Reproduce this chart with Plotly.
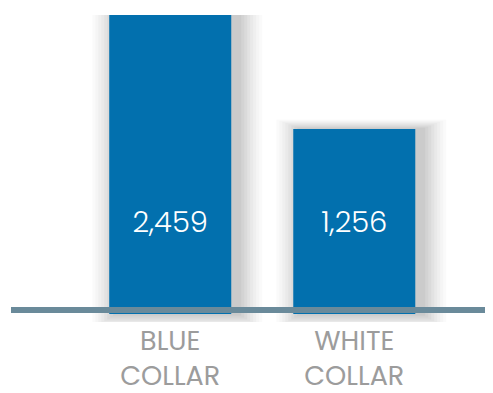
import plotly.graph_objects as go

# ---- data ----
categories = ["BLUE<br>COLLAR", "WHITE<br>COLLAR"]
values = [2459, 1256]
value_labels = ["2,459", "1,256"]

# ---- styling / layout constants ----
BAR_COLOR = "#0270ae"
LINE_COLOR = "#6a8a9a"
CAT_COLOR = "#9c9c9c"
FONT = "Poppins, Lato, 'Open Sans', sans-serif"
PX_PER_UNIT = 184.0          # horizontal px per category step
VAL_PER_PX = 10.55           # vertical value units per px
BAR_W = 122 / PX_PER_UNIT
AXIS_MAX = max(values)
AXIS_MIN = AXIS_MAX - 307 * VAL_PER_PX
BAR_BASE = AXIS_MAX - 299 * VAL_PER_PX
LINE_Y = AXIS_MAX - 295 * VAL_PER_PX
LABEL_Y = AXIS_MAX - 210 * VAL_PER_PX

# shadow layers: (spread px, opacity)
SHADOW_LAYERS = [(48, 0.018), (42, 0.02), (36, 0.022), (30, 0.025), (24, 0.028),
                 (18, 0.03), (12, 0.032), (6, 0.035)]

fig = go.Figure()

for spread, op in SHADOW_LAYERS:
    w = BAR_W + spread / PX_PER_UNIT
    fig.add_trace(go.Bar(
        x=list(range(len(values))),
        y=[v - BAR_BASE + spread * VAL_PER_PX * 0.5 for v in values],
        base=BAR_BASE - spread * VAL_PER_PX * 0.3,
        width=w,
        offset=-w / 2 + 7 / PX_PER_UNIT,
        marker=dict(color="rgba(0,0,0,%s)" % op, line=dict(width=0)),
        hoverinfo="skip", showlegend=False,
    ))

fig.add_trace(go.Bar(
    x=list(range(len(values))),
    y=[v - BAR_BASE for v in values],
    base=BAR_BASE,
    width=BAR_W,
    marker=dict(color=BAR_COLOR, line=dict(width=0)),
    hoverinfo="skip", showlegend=False,
))

fig.add_trace(go.Scatter(
    x=list(range(len(values))),
    y=[LABEL_Y] * len(values),
    mode="text",
    text=value_labels,
    textfont=dict(family=FONT, size=29, color="white", weight=300),
    hoverinfo="skip", showlegend=False,
))

fig.add_shape(type="line", xref="paper", x0=0, x1=1, yref="y", y0=LINE_Y, y1=LINE_Y,
              line=dict(color=LINE_COLOR, width=6), layer="above")

# page body has an 8px margin, so the figure is sized/offset to compensate
fig.update_layout(
    width=485, height=385,
    margin=dict(l=3, r=0, t=7, b=71),
    paper_bgcolor="white", plot_bgcolor="white",
    barmode="overlay",
    xaxis=dict(
        range=[-(170.2 - 11) / PX_PER_UNIT, 1 + (493 - 354.3) / PX_PER_UNIT],
        tickmode="array", tickvals=list(range(len(values))), ticktext=categories,
        tickfont=dict(family=FONT, size=27, color=CAT_COLOR),
        showgrid=False, zeroline=False, showline=False, ticks="",
        automargin=False,
    ),
    yaxis=dict(range=[AXIS_MIN, AXIS_MAX], visible=False, showgrid=False, zeroline=False,
               automargin=False),
)

fig.write_html("out.html")
